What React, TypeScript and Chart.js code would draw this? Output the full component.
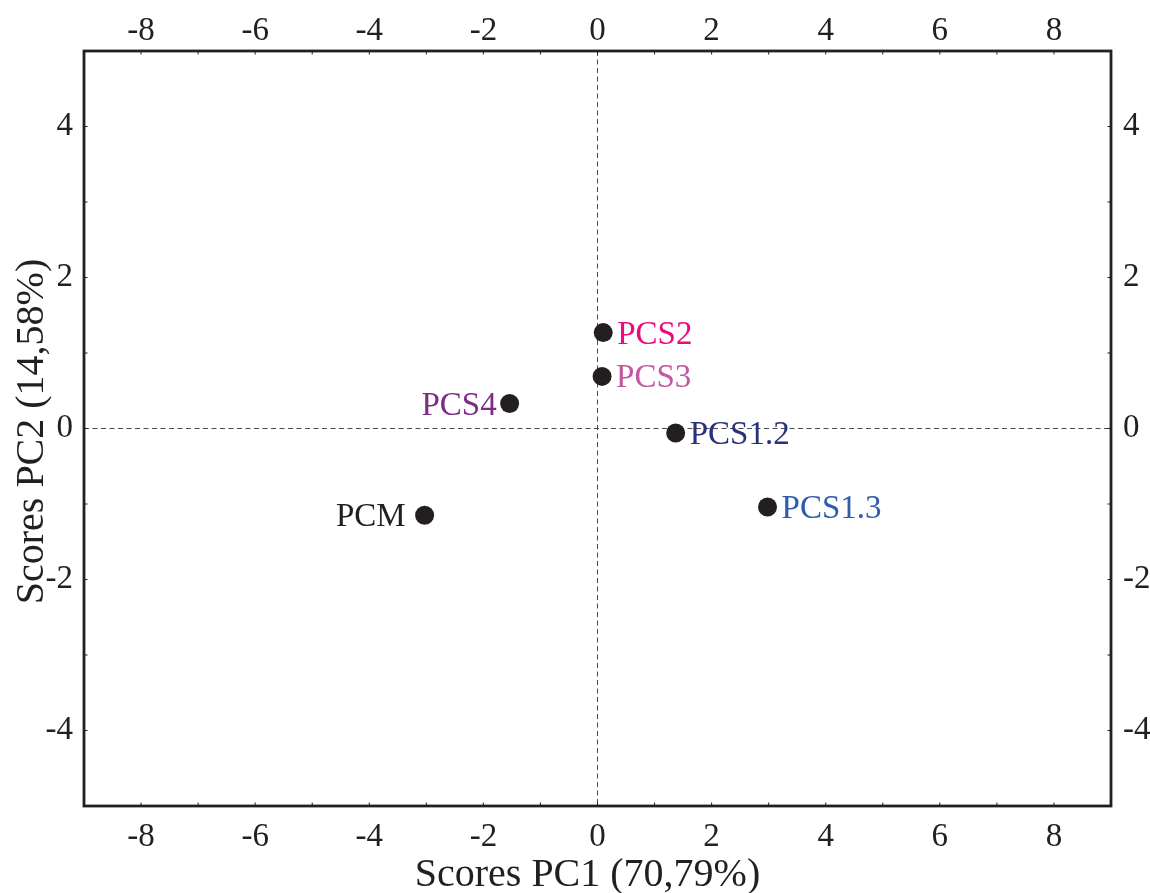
import React, { useEffect, useRef } from 'react';
import { Chart, registerables } from 'chart.js';

Chart.register(...registerables);

// ---- data ----
const sampleNames = ['PCS2', 'PCS3', 'PCS4', 'PCS1.2', 'PCS1.3', 'PCM'];
const pc1Scores = [0.1, 0.08, -1.54, 1.37, 2.98, -3.03];
const pc2Scores = [1.27, 0.69, 0.33, -0.06, -1.04, -1.15];
const xTicks = [-8, -6, -4, -2, 0, 2, 4, 6, 8];
const yTicks = [-4, -2, 0, 2, 4];
const xRange = [-9, 9];
const yRange = [-5, 5];
const xTitle = 'Scores PC1 (70,79%)';
const yTitle = 'Scores PC2 (14,58%)';

// ---- styles ----
const labelColors = ['#ec0b7f', '#c4579f', '#7e2b84', '#28327a', '#2f5daa', '#231f20'];
const labelSides = ['right', 'right', 'left', 'right', 'right', 'left'];
const labelGaps = [14, 14, 13, 14, 14, 19];
const INK = '#231f20';
const FONT = "'Liberation Serif', 'Times New Roman', serif";

const tickFont = { family: FONT, size: 33 };

const framePlugin = {
  id: 'pcaFrame',
  beforeDatasetsDraw(chart: any) {
    const { ctx, chartArea: a, scales } = chart;
    const xs = scales.x;
    const ys = scales.y;
    ctx.save();
    // dashed zero lines
    ctx.strokeStyle = '#4a4a4a';
    ctx.lineWidth = 1;
    ctx.setLineDash([5, 3.5]);
    const x0 = xs.getPixelForValue(0);
    const y0 = ys.getPixelForValue(0);
    ctx.beginPath();
    ctx.moveTo(x0, a.top);
    ctx.lineTo(x0, a.bottom);
    ctx.moveTo(a.left, y0);
    ctx.lineTo(a.right, y0);
    ctx.stroke();
    ctx.setLineDash([]);
    // small inward ticks at every unit
    ctx.strokeStyle = INK;
    ctx.lineWidth = 1;
    ctx.beginPath();
    for (let v = xRange[0] + 1; v < xRange[1]; v++) {
      const px = xs.getPixelForValue(v);
      ctx.moveTo(px, a.top);
      ctx.lineTo(px, a.top + 3.5);
      ctx.moveTo(px, a.bottom);
      ctx.lineTo(px, a.bottom - 3.5);
    }
    for (let v = yRange[0] + 1; v < yRange[1]; v++) {
      const py = ys.getPixelForValue(v);
      ctx.moveTo(a.left, py);
      ctx.lineTo(a.left + 3.5, py);
      ctx.moveTo(a.right, py);
      ctx.lineTo(a.right - 3.5, py);
    }
    ctx.stroke();
    // frame
    ctx.lineWidth = 2.8;
    ctx.strokeRect(a.left, a.top, a.right - a.left, a.bottom - a.top);
    // axis titles
    ctx.fillStyle = INK;
    ctx.font = `40px ${FONT}`;
    ctx.textAlign = 'center';
    ctx.textBaseline = 'alphabetic';
    ctx.fillText(xTitle, (a.left + a.right) / 2 - 10, 886);
    ctx.translate(43, (a.top + a.bottom) / 2 + 3);
    ctx.rotate(-Math.PI / 2);
    ctx.fillText(yTitle, 0, 0);
    ctx.restore();
  },
  afterDatasetsDraw(chart: any) {
    const { ctx } = chart;
    const meta = chart.getDatasetMeta(0);
    ctx.save();
    ctx.font = `33px ${FONT}`;
    ctx.textBaseline = 'alphabetic';
    meta.data.forEach((pt: any, i: number) => {
      const side = labelSides[i];
      ctx.fillStyle = labelColors[i];
      ctx.textAlign = side === 'right' ? 'left' : 'right';
      const tx = side === 'right' ? pt.x + labelGaps[i] : pt.x - labelGaps[i];
      ctx.fillText(sampleNames[i], tx, pt.y + 11);
    });
    ctx.restore();
  },
};

function makeAxis(position: string, ticksArr: number[], range: number[], padding: number, size: number) {
  const horizontal = position === 'top' || position === 'bottom';
  return {
    type: 'linear',
    position,
    min: range[0],
    max: range[1],
    grid: { display: false, drawTicks: false },
    border: { display: false },
    ticks: {
      font: tickFont,
      color: INK,
      padding,
      autoSkip: false,
      maxRotation: 0,
      callback: (v: number) => String(v),
    },
    afterBuildTicks: (s: any) => {
      s.ticks = ticksArr.map((v) => ({ value: v }));
    },
    afterFit: (s: any) => {
      if (horizontal) s.height = size;
      else s.width = size;
    },
  };
}

export default function App() {
  const canvasRef = useRef<HTMLCanvasElement | null>(null);

  useEffect(() => {
    const canvas = canvasRef.current;
    if (!canvas) return;
    const chart = new Chart(canvas, {
      type: 'scatter',
      data: {
        datasets: [
          {
            label: 'Scores',
            data: pc1Scores.map((x, i) => ({ x, y: pc2Scores[i] })),
            backgroundColor: INK,
            borderWidth: 0,
            pointRadius: 9.5,
            pointHoverRadius: 9.5,
            xAxisID: 'x',
            yAxisID: 'y',
          },
        ],
      },
      options: {
        responsive: false,
        animation: false,
        layout: { padding: 0 },
        plugins: {
          legend: { display: false },
          tooltip: { enabled: false },
        },
        scales: {
          x: makeAxis('bottom', xTicks, xRange, 12, 87),
          x2: makeAxis('top', xTicks, xRange, 0, 51),
          y: makeAxis('left', yTicks, yRange, 11, 84),
          y2: makeAxis('right', yTicks, yRange, 12, 39),
        } as any,
      },
      plugins: [framePlugin],
    } as any);
    return () => chart.destroy();
  }, []);

  return (
    <div style={{ position: 'absolute', left: 0, top: 0, width: 1150, height: 893, background: '#fff' }}>
      <canvas ref={canvasRef} width={1150} height={893} style={{ display: 'block' }} />
    </div>
  );
}
